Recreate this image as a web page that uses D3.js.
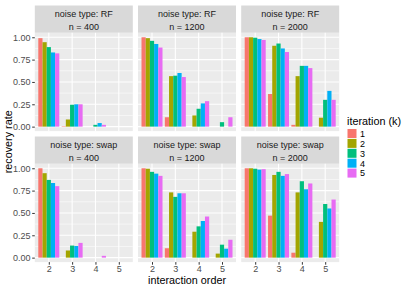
<!DOCTYPE html>
<html>
<head>
<meta charset="utf-8">
<script src="https://cdn.jsdelivr.net/npm/d3@7"></script>
<style>
	body { margin: 0; background: #fff; }
	svg { display: block; font-family: "Liberation Sans", Arial, sans-serif; }
</style>
</head>
<body>
<div class="chart"></div>
<script>
const orders = ["2", "3", "4", "5"];
const iterations = ["1", "2", "3", "4", "5"];
const sampleSizes = [400, 1200, 2000];
const noiseTypes = ["RF", "swap"];
const yTicks = [0, 0.25, 0.5, 0.75, 1];
const yMinor = [0.125, 0.375, 0.625, 0.875];
const colours = ["#F8766D", "#A3A500", "#00BF7D", "#00B0F6", "#E76BF3"];

// recovery rate per interaction order (rows) and iteration k = 1..5 (cols)
const rf400 = [
	[0.99, 0.945, 0.89, 0.83, 0.82],
	[0.005, 0.08, 0.245, 0.25, 0.25],
	[0, 0, 0.02, 0.04, 0.02],
	[0, 0, 0, 0, 0]
];
const rf1200 = [
	[1.0, 0.99, 0.96, 0.925, 0.885],
	[0.105, 0.565, 0.57, 0.6, 0.555],
	[0, 0.125, 0.2, 0.26, 0.285],
	[0, 0, 0.05, 0, 0.105]
];
const rf2000 = [
	[1.0, 1.0, 0.995, 0.98, 0.97],
	[0.365, 0.905, 0.93, 0.875, 0.835],
	[0.02, 0.565, 0.68, 0.68, 0.655],
	[0, 0.1, 0.3, 0.4, 0.3]
];
const swap400 = [
	[1.0, 0.945, 0.87, 0.835, 0.8],
	[0, 0.08, 0.135, 0.13, 0.165],
	[0, 0, 0, 0, 0.02],
	[0, 0, 0, 0, 0]
];
const swap1200 = [
	[1.0, 0.995, 0.96, 0.94, 0.915],
	[0.105, 0.73, 0.68, 0.72, 0.72],
	[0, 0.29, 0.35, 0.41, 0.46],
	[0, 0.045, 0.145, 0.1, 0.2]
];
const swap2000 = [
	[1.0, 1.0, 0.995, 0.985, 0.99],
	[0.47, 0.925, 0.96, 0.915, 0.935],
	[0.055, 0.73, 0.855, 0.765, 0.83],
	[0, 0.4, 0.6, 0.55, 0.65]
];
const panelValues = [[rf400, rf1200, rf2000], [swap400, swap1200, swap2000]];

const width = 407, height = 285;
const panelX0 = 34.8, panelW = 98, gap = 5.2;
const panelY0 = 32.8, panelH = 98.3, stripH = 27.3, rowStep = 131;
const smallFont = 9, bigFont = 10.8;

const svg = d3.select(".chart")
	.append("svg")
	.attr("width", width)
	.attr("height", height);

const fill = d3.scaleOrdinal().domain(iterations).range(colours);

noiseTypes.forEach((noise, r) => {
	const top = panelY0 + r * rowStep;
	const y = d3.scaleLinear().domain([-0.05, 1.05]).range([top + panelH, top]);
	sampleSizes.forEach((n, c) => {
		const left = panelX0 + c * (panelW + gap);
		const x = d3.scalePoint().domain(orders).range([left, left + panelW]).padding(0.6);
		const step = x.step();
		const xInner = d3.scaleBand().domain(iterations).range([-0.45 * step, 0.45 * step]);
		const g = svg.append("g");

		// strip
		g.append("rect")
			.attr("x", left).attr("y", top - stripH)
			.attr("width", panelW).attr("height", stripH)
			.attr("fill", "#D9D9D9");
		g.append("text")
			.attr("x", left + panelW / 2).attr("y", top - stripH + 11.3)
			.attr("text-anchor", "middle")
			.attr("font-size", smallFont).attr("fill", "#1A1A1A")
			.text(`noise type: ${noise}`);
		g.append("text")
			.attr("x", left + panelW / 2).attr("y", top - stripH + 24.3)
			.attr("text-anchor", "middle")
			.attr("font-size", smallFont).attr("fill", "#1A1A1A")
			.text(`n = ${n}`);

		// panel + grid
		g.append("rect")
			.attr("x", left).attr("y", top)
			.attr("width", panelW).attr("height", panelH)
			.attr("fill", "#EBEBEB");
		g.selectAll(".minor").data(yMinor).enter().append("line")
			.attr("x1", left).attr("x2", left + panelW)
			.attr("y1", (d) => y(d)).attr("y2", (d) => y(d))
			.attr("stroke", "#fff").attr("stroke-width", 0.55);
		g.selectAll(".major").data(yTicks).enter().append("line")
			.attr("x1", left).attr("x2", left + panelW)
			.attr("y1", (d) => y(d)).attr("y2", (d) => y(d))
			.attr("stroke", "#fff").attr("stroke-width", 1.1);
		g.selectAll(".vmajor").data(orders).enter().append("line")
			.attr("x1", (d) => x(d)).attr("x2", (d) => x(d))
			.attr("y1", top).attr("y2", top + panelH)
			.attr("stroke", "#fff").attr("stroke-width", 1.1);

		// bars
		const vals = panelValues[r][c];
		const bars = [];
		orders.forEach((o, i) => iterations.forEach((k, j) => bars.push({ o, k, v: vals[i][j] })));
		g.selectAll(".bar").data(bars.filter((d) => d.v > 0)).enter().append("rect")
			.attr("x", (d) => x(d.o) + xInner(d.k))
			.attr("width", xInner.bandwidth())
			.attr("y", (d) => y(d.v))
			.attr("height", (d) => y(0) - y(d.v))
			.attr("fill", (d) => fill(d.k));

		// y axis on first column
		if (c === 0) {
			const ya = g.append("g")
				.attr("transform", `translate(${left},0)`)
				.call(d3.axisLeft(y).tickValues(yTicks).tickFormat(d3.format(".2f")).tickSize(2.6).tickPadding(1.6));
			ya.select(".domain").remove();
			ya.selectAll("line").attr("stroke", "#333");
			ya.selectAll("text").attr("font-size", smallFont).attr("fill", "#4D4D4D").attr("font-family", null);
		}
		// x axis on bottom row
		if (r === noiseTypes.length - 1) {
			const xa = g.append("g")
				.attr("transform", `translate(0,${top + panelH})`)
				.call(d3.axisBottom(x).tickSize(2.6).tickPadding(1.2));
			xa.select(".domain").remove();
			xa.selectAll("line").attr("stroke", "#333");
			xa.selectAll("text").attr("font-size", smallFont).attr("fill", "#4D4D4D").attr("font-family", null);
		}
	});
});

// axis titles
const plotRight = panelX0 + 3 * panelW + 2 * gap;
svg.append("text")
	.attr("x", (panelX0 + plotRight) / 2).attr("y", 283.5)
	.attr("text-anchor", "middle").attr("font-size", bigFont)
	.text("interaction order");
svg.append("text")
	.attr("transform", `translate(11.5,${(panelY0 - stripH + panelY0 + rowStep + panelH) / 2 + 8}) rotate(-90)`)
	.attr("text-anchor", "middle").attr("font-size", bigFont)
	.text("recovery rate");

// legend
const legend = svg.append("g").attr("transform", "translate(347,0)");
legend.append("text")
	.attr("x", 0).attr("y", 125)
	.attr("font-size", bigFont)
	.text("iteration (k)");
iterations.forEach((k, i) => {
	legend.append("rect")
		.attr("x", 0.5).attr("y", 129 + i * 9.9)
		.attr("width", 9).attr("height", 9)
		.attr("fill", fill(k));
	legend.append("text")
		.attr("x", 13).attr("y", 129 + i * 9.9 + 7.8)
		.attr("font-size", smallFont)
		.text(k);
});
</script>
</body>
</html>
